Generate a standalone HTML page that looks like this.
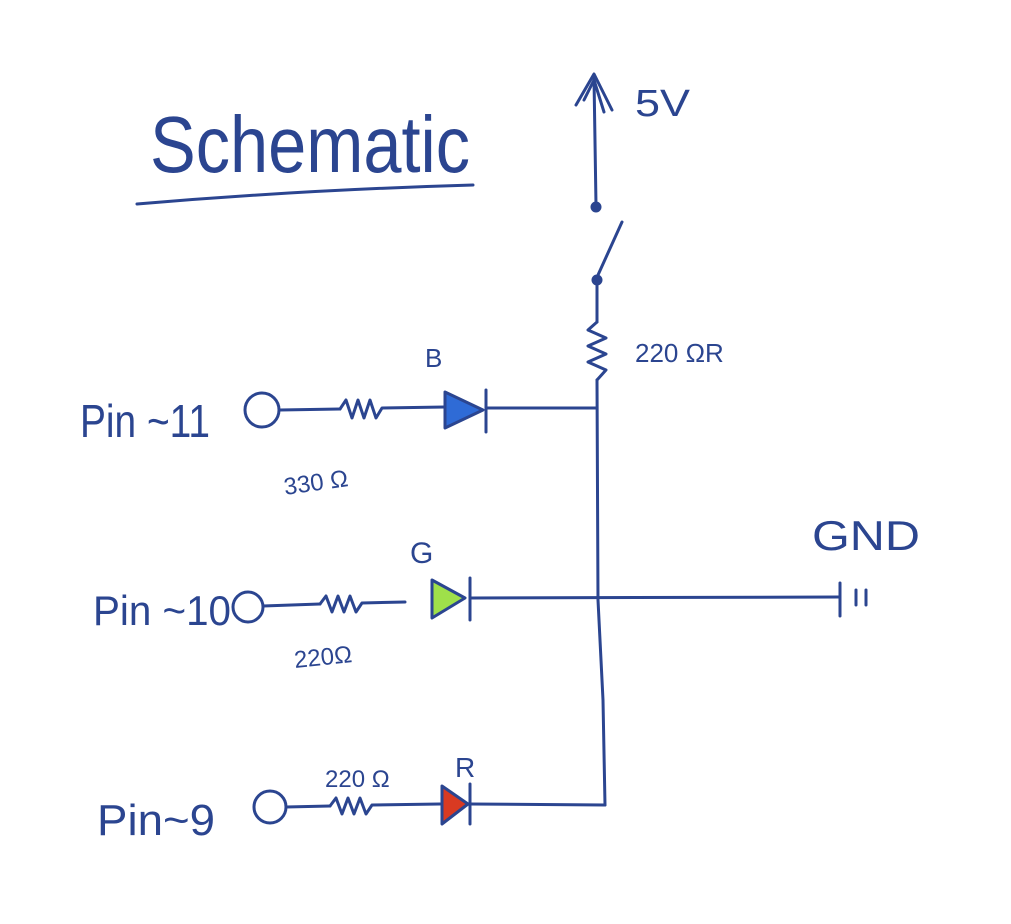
<!DOCTYPE html>
<html><head><meta charset="utf-8"><style>
html,body{margin:0;padding:0;background:#fff;}
svg{display:block}
text{font-family:"Liberation Sans",sans-serif;fill:#2b4590;font-weight:300;}
</style></head><body>
<svg width="1011" height="924" viewBox="0 0 1011 924" xmlns="http://www.w3.org/2000/svg">
<g stroke="#2b4590" stroke-width="3" fill="none" stroke-linecap="round" stroke-linejoin="round">
<path d="M137 204 Q300 190 473 185"/>
<path d="M596 205 L594 78"/>
<path d="M576 105 L594 74 L612 110"/>
<path d="M584 100 L594 80 L604 112"/>
<circle cx="596" cy="207" r="4" fill="#2b4590"/>
<circle cx="597" cy="280" r="4" fill="#2b4590"/>
<path d="M598 275 L622 222"/>
<path d="M597 282 L597 322"/>
<path d="M597 322 L588 330 L606 338 L588 346 L606 354 L588 362 L606 370 L597 380"/>
<path d="M597 380 L598 600 L603 700 L605 805"/>
<circle cx="262" cy="410" r="17"/>
<path d="M280 410 L340 409"/>
<path d="M340 409 L346 400 L352 418 L358 400 L364 418 L370 400 L376 418 L382 408 L445 407"/>
<path d="M445 392 L483 410 L445 428 Z" fill="#2f6bd6"/>
<path d="M486 390 L486 432"/>
<path d="M486 408 L597 408"/>
<circle cx="248" cy="607" r="15"/>
<path d="M263 606 L320 604"/>
<path d="M320 604 L326 596 L332 612 L338 596 L344 612 L350 596 L356 612 L362 603 L405 602"/>
<path d="M432 580 L465 598 L432 618 Z" fill="#9fe04a"/>
<path d="M470 578 L470 620"/>
<path d="M470 598 L840 597"/>
<path d="M840 583 L840 616"/>
<path d="M856 590 L856 605"/>
<path d="M866 590 L866 605"/>
<circle cx="270" cy="807" r="16"/>
<path d="M286 807 L330 806"/>
<path d="M330 806 L336 798 L342 814 L348 798 L354 814 L360 798 L366 814 L372 805 L440 804"/>
<path d="M442 786 L468 804 L442 824 Z" fill="#d93a22"/>
<path d="M470 784 L470 824"/>
<path d="M470 804 L605 805"/>
</g>
<text x="150" y="172" font-size="80" textLength="320" lengthAdjust="spacingAndGlyphs">Schematic</text>
<text x="635" y="116" font-size="38" textLength="55" lengthAdjust="spacingAndGlyphs">5V</text>
<text x="635" y="362" font-size="26">220 ΩR</text>
<text x="80" y="437" font-size="46" textLength="130" lengthAdjust="spacingAndGlyphs">Pin ~11</text>
<text x="425" y="367" font-size="26">B</text>
<text x="285" y="495" font-size="24" transform="rotate(-8 285 495)">330 Ω</text>
<text x="93" y="625" font-size="42" textLength="138" lengthAdjust="spacingAndGlyphs">Pin ~10</text>
<text x="410" y="563" font-size="30">G</text>
<text x="295" y="668" font-size="24" transform="rotate(-6 295 668)">220Ω</text>
<text x="812" y="550" font-size="42" textLength="108" lengthAdjust="spacingAndGlyphs">GND</text>
<text x="97" y="835" font-size="44" textLength="118" lengthAdjust="spacingAndGlyphs">Pin~9</text>
<text x="325" y="787" font-size="24">220 Ω</text>
<text x="455" y="777" font-size="28">R</text>
</svg>
</body></html>
